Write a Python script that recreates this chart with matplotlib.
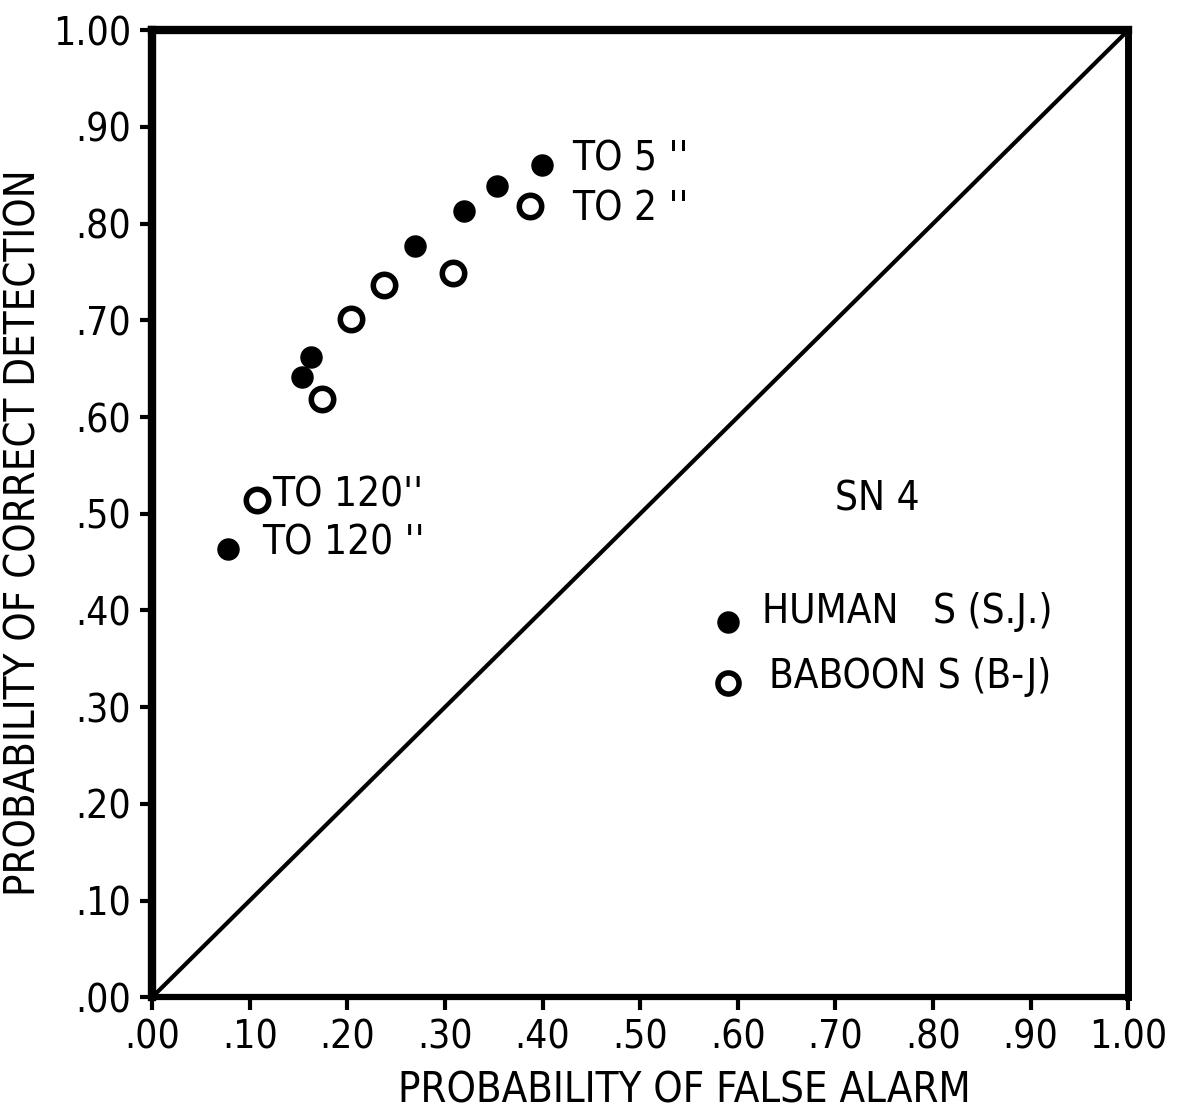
import matplotlib
matplotlib.use('Agg')
import matplotlib.pyplot as plt
import numpy as np

plt.rcParams['font.family'] = ['DejaVu Sans']
plt.rcParams['font.stretch'] = 'condensed'

# human S (S.J.) - filled
human_fa = [0.078, 0.154, 0.163, 0.269, 0.319, 0.353, 0.399]
human_cd = [0.464, 0.641, 0.662, 0.777, 0.813, 0.839, 0.861]
# baboon S (B-J) - open
baboon_fa = [0.107, 0.174, 0.204, 0.238, 0.308, 0.387]
baboon_cd = [0.514, 0.619, 0.701, 0.736, 0.749, 0.818]

ticks = np.arange(0, 1.01, 0.1)
tick_labels = ['.00', '.10', '.20', '.30', '.40', '.50', '.60', '.70', '.80', '.90', '1.00']

fig = plt.figure(figsize=(11.79, 11.18), dpi=100)
ax = fig.add_axes([0.129, 0.108, 0.828, 0.865])

ax.plot([0, 1], [0, 1], color='black', linewidth=3)

ax.scatter(human_fa, human_cd, s=230, color='black', zorder=3)
ax.scatter(baboon_fa, baboon_cd, s=260, facecolor='white', edgecolor='black',
           linewidth=4, zorder=3)

# legend drawn as marks + text
ax.scatter([0.59], [0.388], s=230, color='black')
ax.scatter([0.59], [0.325], s=230, facecolor='white', edgecolor='black', linewidth=4)
ax.text(0.625, 0.398, 'HUMAN   S (S.J.)', fontsize=29, va='center')
ax.text(0.632, 0.331, 'BABOON S (B-J)', fontsize=29, va='center')
ax.text(0.70, 0.515, 'SN 4', fontsize=29, va='center')

ax.text(0.43, 0.866, "TO 5 ''", fontsize=29, va='center')
ax.text(0.43, 0.815, "TO 2 ''", fontsize=29, va='center')
ax.text(0.123, 0.519, "TO 120''", fontsize=29, va='center')
ax.text(0.113, 0.469, "TO 120 ''", fontsize=29, va='center')

ax.set_xlim(0, 1)
ax.set_ylim(0, 1)
ax.set_xticks(ticks)
ax.set_xticklabels(tick_labels, fontsize=28)
ax.set_yticks(ticks)
ax.set_yticklabels(tick_labels, fontsize=28)
ax.tick_params(direction='out', length=9, width=3, pad=6)

ax.spines['left'].set_linewidth(6)
ax.spines['top'].set_linewidth(6)
ax.spines['right'].set_linewidth(5)
ax.spines['bottom'].set_linewidth(4.5)

ax.set_xlabel('PROBABILITY OF FALSE ALARM', fontsize=30, labelpad=10)
ax.set_ylabel('PROBABILITY OF CORRECT DETECTION', fontsize=30, labelpad=6)
ax.xaxis.label.set_x(0.545)
ax.yaxis.label.set_y(0.48)

fig.savefig('out.png', dpi=100)
